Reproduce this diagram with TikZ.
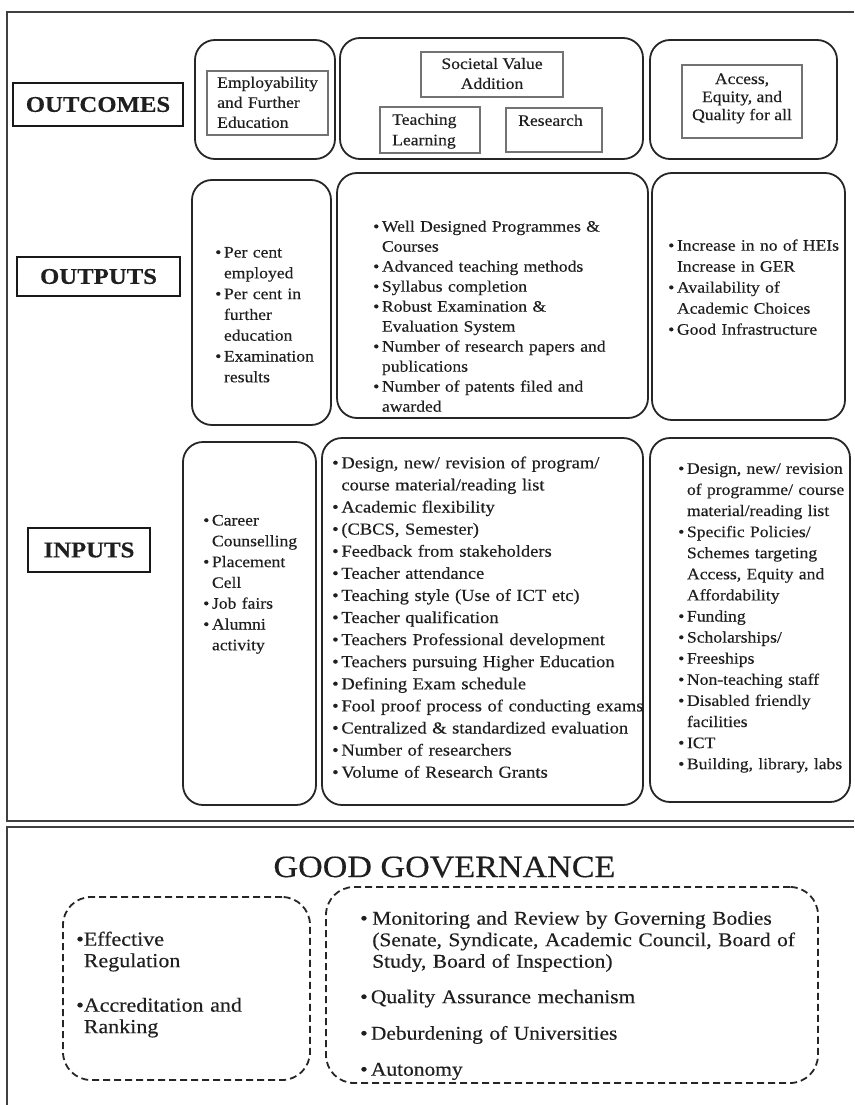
\documentclass[tikz,border=0pt]{standalone}
\usepackage{fontspec}
\setmainfont{Liberation Serif}[FakeStretch=1.1, FakeBold=0.35]
\usetikzlibrary{fit}

\newcommand\boxfont[2]{\fontsize{#1}{#2}\selectfont}
\newcommand\nl{\hfil\break}
\newcommand\itm[2][0.55em]{\par\noindent\hangindent=#1\hangafter=1\makebox[#1][l]{\textbullet}#2\par}

\tikzset{
  panel/.style={draw=black!75, line width=1.5pt},
  bigbox/.style={draw=black!85, line width=1.8pt, rounded corners=20pt, inner sep=0pt},
  smallbox/.style={draw=black!55, line width=1.3pt, inner sep=0pt},
  rowlabel/.style={draw=black!90, line width=1.4pt, inner sep=0pt, font=\bfseries\boxfont{22.5}{24}},
  dashbox/.style={draw=black!85, line width=1.8pt, dash pattern=on 7pt off 4pt, rounded corners=28pt, inner sep=0pt},
  blist/.style={anchor=north west, inner sep=0pt, text width=480pt, align=left},
}

\begin{document}
\begin{tikzpicture}[x=1pt, y=-1pt, every node/.style={text=black!88}]
  \useasboundingbox (0,0) rectangle (854,1105);
  % the two panels
  \draw[panel] (854,12) -- (7,12) -- (7,821) -- (854,821);
  \draw[panel] (854,827) -- (7,827) -- (7,1105);

  % outcomes row
  \node[rowlabel, minimum width=170, minimum height=43] (outcomes) at (98,104.5) {OUTCOMES};
  \node[bigbox, fit={(195,40) (335,159)}] (oc1) {};
  \node[bigbox, fit={(340,38) (643,159)}] (oc2) {};
  \node[bigbox, fit={(650,40) (837,159)}] (oc3) {};
  \node[smallbox, fit={(207,71) (328,135)}] (employ) {};
  \node[blist, font=\boxfont{16}{20}] (employt) at (217,76.5) {Employability\nl and Further\nl Education};
  \node[smallbox, minimum width=142, minimum height=45] (societal) at (492,74.5) {};
  \node[align=center, inner sep=0pt, font=\boxfont{16}{20}] (societalt) at (492,73.5) {Societal Value\\Addition};
  \node[smallbox, fit={(380,107) (480,153)}] (teach) {};
  \node[blist, font=\boxfont{16}{20.5}] (teacht) at (392,113.5) {Teaching\nl Learning};
  \node[smallbox, fit={(506,108) (602,152)}] (research) {};
  \node[blist, font=\boxfont{16}{20}] (researcht) at (518,114.5) {Research};
  \node[smallbox, fit={(682,65) (802,138)}] (access) {};
  \node[align=center, inner sep=0pt, font=\boxfont{16}{18}] (accesst) at (742,98.5) {Access,\\Equity, and\\Quality for all};

  % outputs row
  \node[rowlabel, minimum width=163, minimum height=39] (outputs) at (98.5,276.5) {OUTPUTS};
  \node[bigbox, fit={(192,180) (331,425)}] (op1) {};
  \node[bigbox, fit={(337,173) (648,418)}] (op2) {};
  \node[bigbox, fit={(652,173) (845,420)}] (op3) {};
  \node[blist, font=\boxfont{16}{20.8}] (op1t) at (215,236.5)
    {\itm{Per cent\nl employed}\itm{Per cent in\nl further\nl education}\itm{Examination\nl results}};
  \node[blist, font=\boxfont{16}{20}] (op2t) at (373,211.5)
    {\itm{Well Designed Programmes \&\nl Courses}\itm{Advanced teaching methods}\itm{Syllabus completion}%
     \itm{Robust Examination \&\nl Evaluation System}\itm{Number of research papers and\nl publications}%
     \itm{Number of patents filed and\nl awarded}};
  \node[blist, font=\boxfont{16}{21}] (op3t) at (668,229.5)
    {\itm{Increase in no of HEIs\nl Increase in GER}\itm{Availability of\nl Academic Choices}\itm{Good Infrastructure}};

  % inputs row
  \node[rowlabel, minimum width=122, minimum height=44] (inputs) at (89,550) {INPUTS};
  \node[bigbox, fit={(183,442) (316,805)}] (ip1) {};
  \node[bigbox, fit={(322,438) (643,805)}] (ip2) {};
  \node[bigbox, fit={(650,438) (850,802)}] (ip3) {};
  \node[blist, font=\boxfont{16}{20.8}] (ip1t) at (203,504.5)
    {\itm{Career\nl Counselling}\itm{Placement\nl Cell}\itm{Job fairs}\itm{Alumni\nl activity}};
  \node[blist, font=\boxfont{16.8}{22.1}] (ip2t) at (332,446)
    {\itm{Design, new/ revision of program/\nl course material/reading list}\itm{Academic flexibility}%
     \itm{(CBCS, Semester)}\itm{Feedback from stakeholders}\itm{Teacher attendance}%
     \itm{Teaching style (Use of ICT etc)}\itm{Teacher qualification}\itm{Teachers Professional development}%
     \itm{Teachers pursuing Higher Education}\itm{Defining Exam schedule}%
     \itm{Fool proof process of conducting exams}\itm{Centralized \& standardized evaluation}%
     \itm{Number of researchers}\itm{Volume of Research Grants}};
  \node[blist, font=\boxfont{16}{21.1}] (ip3t) at (678,452.5)
    {\itm{Design, new/ revision\nl of programme/ course\nl material/reading list}%
     \itm{Specific Policies/\nl Schemes targeting\nl Access, Equity and\nl Affordability}%
     \itm{Funding}\itm{Scholarships/}\itm{Freeships}\itm{Non-teaching staff}%
     \itm{Disabled friendly\nl facilities}\itm{ICT}\itm{Building, library, labs}};

  % governance panel
  \node[inner sep=0pt, font=\boxfont{31}{33}] (gov) at (444.5,867) {GOOD GOVERNANCE};
  \node[dashbox, fit={(63,897) (310,1080)}] (gov1) {};
  \node[dashbox, fit={(326,887) (818,1083)}] (gov2) {};
  \node[blist, font=\boxfont{20}{21.5}] (gov1t) at (76,924)
    {\itm[0.38em]{Effective\nl Regulation}\vspace{23pt}\itm[0.38em]{Accreditation and\nl Ranking}};
  \node[blist, font=\boxfont{19.5}{21.5}] (gov2t) at (360,903)
    {\itm[0.62em]{Monitoring and Review by Governing Bodies\nl (Senate, Syndicate, Academic Council, Board of\nl Study, Board of Inspection)}%
     \vspace{14pt}\itm[0.55em]{Quality Assurance mechanism}%
     \vspace{15pt}\itm[0.55em]{Deburdening of Universities}%
     \vspace{14.5pt}\itm[0.55em]{Autonomy}};
\end{tikzpicture}
\end{document}
